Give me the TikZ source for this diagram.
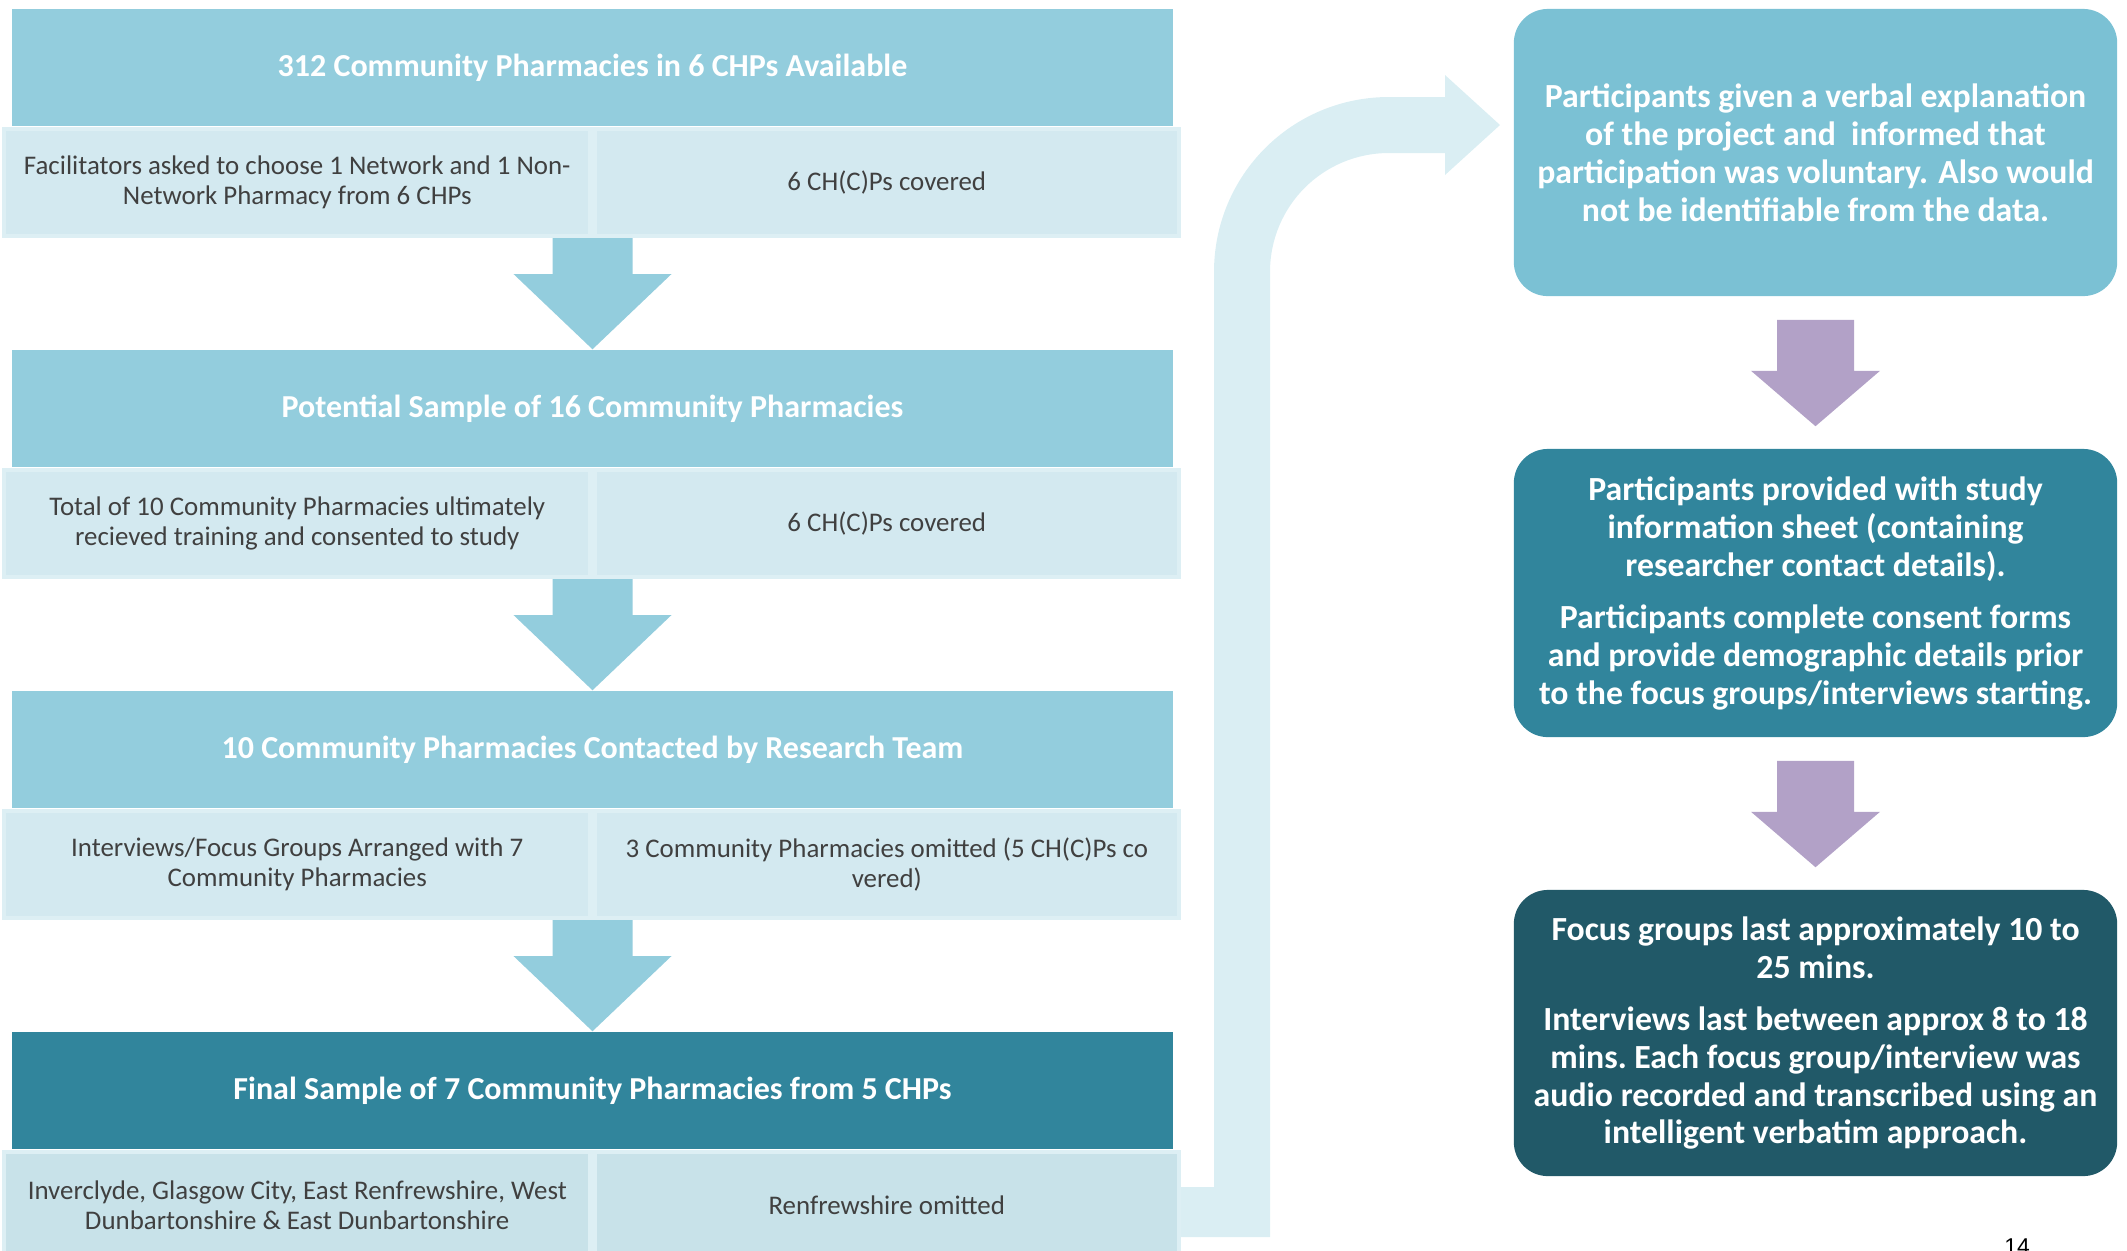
\documentclass[tikz,border=0pt]{standalone}
\usepackage{fontspec}
\setmainfont{Carlito}
\newfontfamily\pagefont{Liberation Sans}
\usetikzlibrary{positioning,calc}

\definecolor{hdrblue}{HTML}{93CDDD}
\definecolor{cellblue}{HTML}{D3E9F0}
\definecolor{celldark}{HTML}{C8E2E9}
\definecolor{celledge}{HTML}{DDEFF4}
\definecolor{tealmid}{HTML}{31859C}
\definecolor{tealdark}{HTML}{215968}
\definecolor{boxblue}{HTML}{7BC1D4}
\definecolor{lilac}{HTML}{B2A1C7}
\definecolor{paleblue}{HTML}{DAEEF3}
\definecolor{celltext}{HTML}{404040}

\tikzset{
  hdr/.style={rectangle, fill=hdrblue, text=white, font=\bfseries\fontsize{9.1}{11}\selectfont,
    minimum width=11.61cm, minimum height=1.17cm, inner sep=0pt},
  cell/.style={rectangle, fill=cellblue, draw=celledge, line width=1.2pt, text=celltext,
    align=center, font=\fontsize{7.65}{8.5}\selectfont, minimum height=1.07cm, inner sep=0pt},
  stage/.style={rectangle, rounded corners=0.34cm, text=white, align=center,
    font=\bfseries\fontsize{9.6}{10.8}\selectfont, minimum width=6.03cm, inner sep=0pt},
}

\begin{document}
\begin{tikzpicture}[x=0.01cm,y=-0.01cm]
\useasboundingbox (0,0) rectangle (2127,1250);
% left column
\node[hdr] (h1) at (592.5,67.5) {312 Community Pharmacies in 6 CHPs Available};
\node[cell, minimum width=5.86cm, anchor=north east] (l1) at (h1.south) {Facilitators asked to choose 1 Network and 1 Non-\\Network Pharmacy from 6 CHPs};
\node[cell, minimum width=5.84cm, anchor=north west] (r1) at (h1.south) {6 CH(C)Ps covered};

\node[hdr] (h2) at (592.5,408.5) {Potential Sample of 16 Community Pharmacies};
\node[cell, minimum width=5.86cm, anchor=north east] (l2) at (h2.south) {Total of 10 Community Pharmacies ultimately\\recieved training and consented to study};
\node[cell, minimum width=5.84cm, anchor=north west] (r2) at (h2.south) {6 CH(C)Ps covered};

\node[hdr] (h3) at (592.5,749.5) {10 Community Pharmacies Contacted by Research Team};
\node[cell, minimum width=5.86cm, anchor=north east] (l3) at (h3.south) {Interviews/Focus Groups Arranged with 7\\Community Pharmacies};
\node[cell, minimum width=5.84cm, anchor=north west] (r3) at (h3.south) {3 Community Pharmacies omitted (5 CH(C)Ps co\\vered)};

\node[hdr, fill=tealmid] (h4) at (592.5,1090.5) {Final Sample of 7 Community Pharmacies from 5 CHPs};
\node[cell, fill=celldark, minimum width=5.86cm, anchor=north east] (l4) at (h4.south) {Inverclyde, Glasgow City, East Renfrewshire, West\\Dunbartonshire \& East Dunbartonshire};
\node[cell, fill=celldark, minimum width=5.84cm, anchor=north west] (r4) at (h4.south) {Renfrewshire omitted};

\foreach \a/\b in {1/2,2/3,3/4}
  \fill[hdrblue] ($(l\a.south east)+(-40,0)$) -- ++(0,36) -- ++(-39,0) -- (h\b.north)
    -- ($(l\a.south east)+(79,36)$) -- ++(-39,0) -- ++(0,-36) -- cycle;

% right column
\node[stage, fill=boxblue, minimum height=2.87cm] (p1) at (1815.5,152.5) {Participants given a verbal explanation\\of the project and\ \ informed that\\participation was voluntary. Also would\\not be identifiable from the data.};
\node[stage, fill=tealmid, minimum height=2.88cm] (p2) at (1815.5,593) {Participants provided with study\\information sheet (containing\\researcher contact details).\\[4pt]Participants complete consent forms\\and provide demographic details prior\\to the focus groups/interviews starting.};
\node[stage, fill=tealdark, minimum height=2.86cm] (p3) at (1815.5,1033) {Focus groups last approximately 10 to\\25 mins.\\[4pt]Interviews last between approx 8 to 18\\mins.\ Each focus group/interview was\\audio recorded and transcribed using an\\intelligent verbatim approach.};

\foreach \a/\b in {1/2,2/3}
  \fill[lilac] ($(p\a.south)+(-38.5,23)$) -- ++(0,51) -- ++(-26,0) -- ($(p\b.north)+(0,-22)$)
    -- ($(p\a.south)+(64.5,74)$) -- ++(-26,0) -- ++(0,-51) -- cycle;

% bent arrow from the last row up to the first stage
\fill[paleblue] (r4.east |- 0,1187) -- (1214,1187) -- (1214,272)
  .. controls (1214,175) and (1292,97) .. (1389,97) -- (1445,97) -- (1445,75)
  -- (1500,125) -- (1445,175) -- (1445,153) -- (1389,153)
  .. controls (1323,153) and (1270,206) .. (1270,272) -- (1270,1237) -- (r4.east |- 0,1237) -- cycle;

\node[font=\pagefont\fontsize{6.5}{7}\selectfont, inner sep=0pt, anchor=north] (pageno) at (2017,1238) {14};
\end{tikzpicture}
\end{document}
